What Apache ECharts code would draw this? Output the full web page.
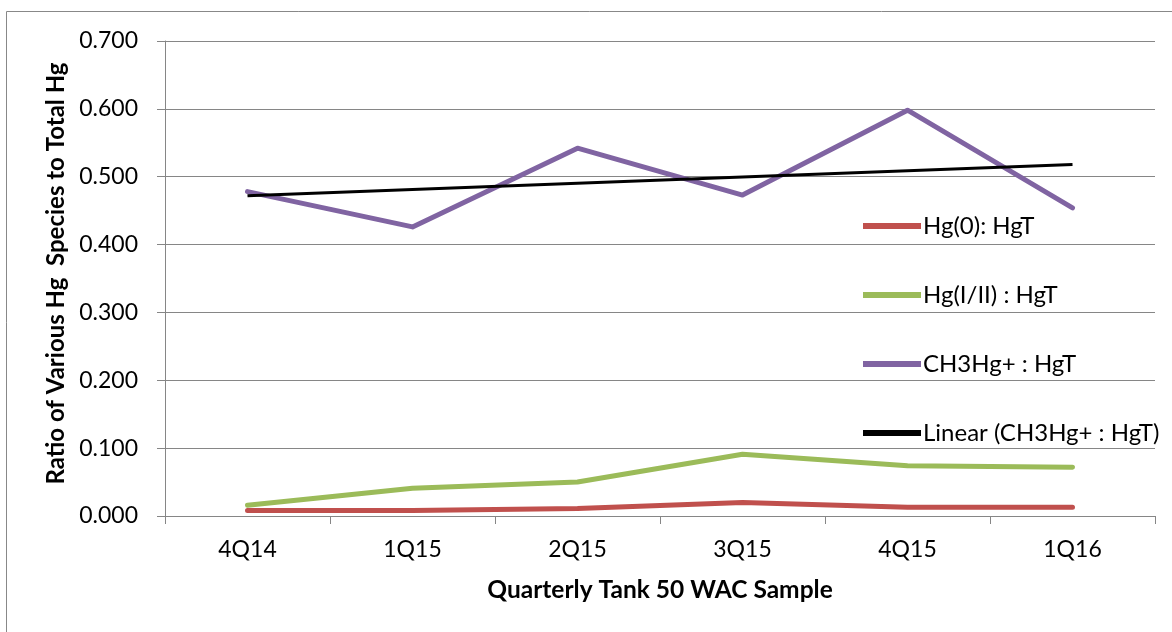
<!DOCTYPE html>
<html>
<head>
<meta charset="utf-8">
<script src="https://cdn.jsdelivr.net/npm/echarts@6/dist/echarts.min.js"></script>
<style>
  html, body { margin: 0; padding: 0; background: #fff; }
  #main { width: 1172px; height: 632px; }
</style>
</head>
<body>
<div id="main"></div>
<script>
// quarters on the x axis
const quarters = ['4Q14', '1Q15', '2Q15', '3Q15', '4Q15', '1Q16'];
// ratios
const hg0 = [0.008, 0.008, 0.011, 0.020, 0.013, 0.013];
const hgI_II = [0.016, 0.041, 0.050, 0.091, 0.074, 0.072];
const ch3hg = [0.478, 0.426, 0.542, 0.473, 0.598, 0.454];
// trend line end points (Excel linear trendline)
const trend = [0.472, null, null, null, null, 0.518];

const font = 'Lato, "Liberation Sans", sans-serif';
const grayLine = '#868686';

let chart = echarts.init(document.getElementById('main'));

chart.setOption({
  animation: false,
  textStyle: { fontFamily: font },
  graphic: [
    {
      type: 'rect',
      shape: { x: 6.5, y: 11.5, width: 1180, height: 640 },
      style: { fill: 'none', stroke: '#888', lineWidth: 1 }
    }
  ],
  grid: { left: 165, right: 17, top: 41, bottom: 116 },
  legend: {
    orient: 'vertical',
    left: 858,
    top: 209,
    itemWidth: 58,
    itemHeight: 6,
    itemGap: 45,
    icon: 'path://M0,0 L58,0 L58,6 L0,6 Z',
    textStyle: { fontFamily: font, fontSize: 24, color: '#000', padding: [0, 0, 0, -3] },
    data: ['Hg(0): HgT', 'Hg(I/II) : HgT', 'CH3Hg+ : HgT', 'Linear (CH3Hg+ : HgT)']
  },
  xAxis: {
    type: 'category',
    data: quarters,
    boundaryGap: true,
    name: 'Quarterly Tank 50 WAC Sample',
    nameLocation: 'middle',
    nameGap: 62,
    nameTextStyle: { fontFamily: font, fontSize: 24.5, fontWeight: 'bold', color: '#000' },
    axisLine: { lineStyle: { color: grayLine, width: 1 } },
    axisTick: { show: true, alignWithLabel: false, length: 8, lineStyle: { color: grayLine } },
    axisLabel: { fontFamily: font, fontSize: 23, color: '#000', margin: 22 },
    splitLine: { show: false }
  },
  yAxis: {
    type: 'value',
    min: 0,
    max: 0.7,
    interval: 0.1,
    name: 'Ratio of Various Hg  Species to Total Hg',
    nameLocation: 'middle',
    nameGap: 95,
    nameRotate: 90,
    nameTextStyle: {
      fontFamily: font, fontSize: 24, fontWeight: 'bold', color: '#000',
      padding: [0, 0, 0, 10]
    },
    axisLine: { show: true, lineStyle: { color: grayLine, width: 1 } },
    axisTick: { show: true, length: 8, lineStyle: { color: grayLine } },
    axisLabel: {
      fontFamily: font, fontSize: 23, color: '#000', margin: 27,
      formatter: v => v.toFixed(3)
    },
    splitLine: { lineStyle: { color: grayLine, width: 1 } }
  },
  series: [
    {
      name: 'Hg(0): HgT', type: 'line', data: hg0,
      symbol: 'none', color: '#c0504d',
      lineStyle: { width: 5, cap: 'round', join: 'round' }
    },
    {
      name: 'Hg(I/II) : HgT', type: 'line', data: hgI_II,
      symbol: 'none', color: '#9bbb59',
      lineStyle: { width: 5, cap: 'round', join: 'round' }
    },
    {
      name: 'CH3Hg+ : HgT', type: 'line', data: ch3hg,
      symbol: 'none', color: '#8064a2',
      lineStyle: { width: 5, cap: 'round', join: 'round' }
    },
    {
      name: 'Linear (CH3Hg+ : HgT)', type: 'line', data: trend,
      connectNulls: true,
      symbol: 'none', color: '#000',
      lineStyle: { width: 3 }
    }
  ]
});
</script>
</body>
</html>
